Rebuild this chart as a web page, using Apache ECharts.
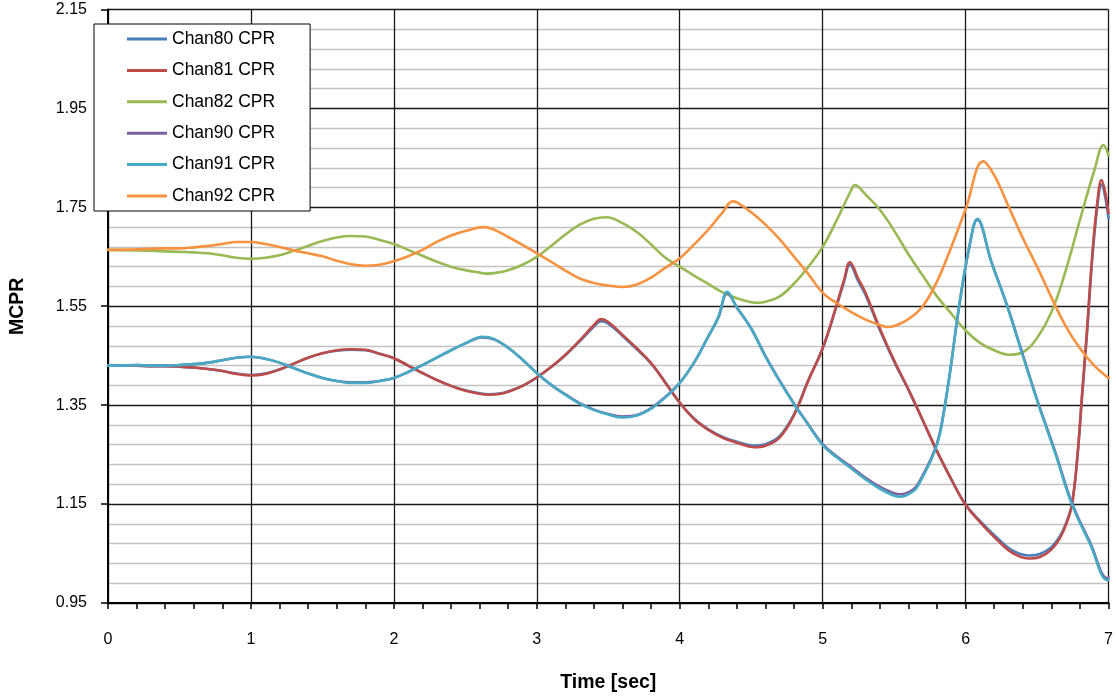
<!DOCTYPE html>
<html>
<head>
<meta charset="utf-8">
<title>MCPR vs Time</title>
<script src="https://cdn.jsdelivr.net/npm/echarts@6/dist/echarts.min.js"></script>
<style>
  html, body { margin: 0; padding: 0; background: #fff; }
  #chart { width: 1116px; height: 698px; }
</style>
</head>
<body>
<div id="chart"></div>
<script>
// MCPR transient per channel: [time (s), MCPR]
const chan80 = [[0,1.430],[0.1,1.430],[0.2,1.430],[0.3,1.429],[0.4,1.429],[0.5,1.428],[0.6,1.426],[0.7,1.423],[0.8,1.419],[0.9,1.414],[1.0,1.411],[1.1,1.414],[1.2,1.422],[1.3,1.434],[1.4,1.446],[1.5,1.455],[1.6,1.460],[1.7,1.462],[1.8,1.461],[1.9,1.454],[2.0,1.445],[2.1,1.430],[2.2,1.415],[2.3,1.401],[2.4,1.389],[2.5,1.380],[2.6,1.374],[2.66,1.372],[2.75,1.374],[2.8,1.378],[2.9,1.389],[3.0,1.406],[3.1,1.427],[3.2,1.451],[3.3,1.479],[3.4,1.509],[3.45,1.520],[3.5,1.515],[3.6,1.490],[3.7,1.463],[3.8,1.434],[3.9,1.396],[4.0,1.355],[4.1,1.323],[4.2,1.301],[4.3,1.286],[4.4,1.276],[4.52,1.268],[4.6,1.271],[4.7,1.288],[4.8,1.332],[4.9,1.401],[5.0,1.465],[5.1,1.553],[5.15,1.600],[5.19,1.634],[5.25,1.600],[5.3,1.573],[5.4,1.502],[5.5,1.438],[5.6,1.381],[5.7,1.319],[5.8,1.256],[5.9,1.200],[6.0,1.149],[6.1,1.116],[6.22,1.082],[6.33,1.056],[6.45,1.046],[6.52,1.049],[6.6,1.063],[6.66,1.085],[6.71,1.117],[6.745,1.152],[6.78,1.238],[6.815,1.368],[6.85,1.498],[6.885,1.642],[6.92,1.748],[6.95,1.796],[7.0,1.728]];
const chan81 = [[0,1.430],[0.1,1.430],[0.2,1.430],[0.3,1.429],[0.4,1.429],[0.5,1.428],[0.6,1.426],[0.7,1.423],[0.8,1.419],[0.9,1.413],[1.0,1.410],[1.1,1.413],[1.2,1.422],[1.3,1.434],[1.4,1.446],[1.5,1.455],[1.6,1.461],[1.7,1.463],[1.8,1.462],[1.9,1.454],[2.0,1.445],[2.1,1.430],[2.2,1.415],[2.3,1.401],[2.4,1.389],[2.5,1.379],[2.6,1.373],[2.66,1.371],[2.75,1.373],[2.8,1.377],[2.9,1.389],[3.0,1.406],[3.1,1.427],[3.2,1.452],[3.3,1.481],[3.4,1.512],[3.45,1.524],[3.5,1.518],[3.6,1.492],[3.7,1.465],[3.8,1.435],[3.9,1.395],[4.0,1.355],[4.1,1.322],[4.2,1.300],[4.3,1.284],[4.4,1.274],[4.52,1.265],[4.6,1.268],[4.7,1.285],[4.8,1.330],[4.9,1.400],[5.0,1.465],[5.1,1.555],[5.15,1.604],[5.19,1.639],[5.25,1.605],[5.3,1.577],[5.4,1.505],[5.5,1.440],[5.6,1.382],[5.7,1.320],[5.8,1.257],[5.9,1.200],[6.0,1.148],[6.1,1.114],[6.22,1.078],[6.33,1.051],[6.45,1.040],[6.52,1.043],[6.6,1.058],[6.66,1.081],[6.71,1.114],[6.745,1.150],[6.78,1.240],[6.815,1.373],[6.85,1.505],[6.885,1.650],[6.92,1.757],[6.95,1.805],[7.0,1.738]];
const chan82 = [[0,1.664],[0.2,1.663],[0.4,1.661],[0.5,1.660],[0.6,1.659],[0.7,1.657],[0.8,1.653],[0.9,1.648],[1.0,1.646],[1.1,1.648],[1.2,1.653],[1.3,1.662],[1.4,1.672],[1.5,1.682],[1.6,1.689],[1.7,1.692],[1.8,1.691],[1.9,1.684],[2.0,1.676],[2.1,1.664],[2.2,1.652],[2.3,1.640],[2.4,1.630],[2.5,1.623],[2.6,1.618],[2.65,1.616],[2.7,1.617],[2.8,1.623],[2.9,1.634],[3.0,1.650],[3.1,1.672],[3.2,1.695],[3.3,1.715],[3.4,1.727],[3.49,1.730],[3.6,1.718],[3.7,1.700],[3.8,1.675],[3.9,1.648],[4.0,1.630],[4.1,1.612],[4.2,1.595],[4.3,1.578],[4.4,1.566],[4.5,1.558],[4.55,1.557],[4.6,1.559],[4.7,1.570],[4.8,1.596],[4.9,1.630],[5.0,1.670],[5.1,1.725],[5.2,1.785],[5.225,1.795],[5.3,1.776],[5.4,1.745],[5.5,1.703],[5.6,1.655],[5.7,1.612],[5.8,1.570],[5.9,1.535],[6.0,1.501],[6.1,1.476],[6.2,1.461],[6.3,1.452],[6.4,1.457],[6.5,1.486],[6.6,1.538],[6.7,1.622],[6.8,1.725],[6.9,1.824],[6.965,1.876],[7.0,1.855]];
const chan90 = [[0,1.430],[0.1,1.430],[0.2,1.431],[0.3,1.430],[0.4,1.430],[0.5,1.431],[0.6,1.433],[0.7,1.436],[0.8,1.441],[0.9,1.446],[1.0,1.448],[1.1,1.444],[1.2,1.436],[1.3,1.425],[1.4,1.414],[1.5,1.405],[1.6,1.399],[1.7,1.396],[1.8,1.396],[1.9,1.399],[2.0,1.405],[2.1,1.417],[2.2,1.431],[2.3,1.446],[2.4,1.461],[2.5,1.475],[2.62,1.487],[2.7,1.483],[2.8,1.466],[2.9,1.442],[3.0,1.415],[3.1,1.391],[3.2,1.372],[3.3,1.354],[3.4,1.341],[3.5,1.332],[3.6,1.327],[3.7,1.330],[3.8,1.344],[3.9,1.367],[4.0,1.395],[4.1,1.436],[4.2,1.489],[4.27,1.527],[4.333,1.577],[4.4,1.547],[4.5,1.505],[4.6,1.449],[4.7,1.399],[4.8,1.353],[4.9,1.311],[5.0,1.271],[5.1,1.246],[5.2,1.225],[5.3,1.203],[5.4,1.185],[5.5,1.172],[5.55,1.170],[5.6,1.174],[5.65,1.184],[5.7,1.208],[5.76,1.243],[5.8,1.273],[5.83,1.308],[5.885,1.405],[5.955,1.550],[6.025,1.668],[6.082,1.725],[6.18,1.640],[6.291,1.551],[6.4,1.452],[6.511,1.352],[6.63,1.253],[6.743,1.153],[6.87,1.073],[6.993,1.000],[7.0,1.002]];
const chan91 = [[0,1.430],[0.1,1.430],[0.2,1.431],[0.3,1.430],[0.4,1.430],[0.5,1.431],[0.6,1.433],[0.7,1.436],[0.8,1.441],[0.9,1.446],[1.0,1.448],[1.1,1.444],[1.2,1.436],[1.3,1.425],[1.4,1.414],[1.5,1.405],[1.6,1.399],[1.7,1.395],[1.8,1.395],[1.9,1.399],[2.0,1.405],[2.1,1.417],[2.2,1.431],[2.3,1.446],[2.4,1.461],[2.5,1.475],[2.62,1.488],[2.7,1.484],[2.8,1.466],[2.9,1.442],[3.0,1.415],[3.1,1.391],[3.2,1.371],[3.3,1.353],[3.4,1.340],[3.5,1.331],[3.6,1.325],[3.7,1.329],[3.8,1.343],[3.9,1.366],[4.0,1.395],[4.1,1.436],[4.2,1.489],[4.27,1.528],[4.333,1.579],[4.4,1.548],[4.5,1.505],[4.6,1.448],[4.7,1.398],[4.8,1.352],[4.9,1.310],[5.0,1.269],[5.1,1.244],[5.2,1.222],[5.3,1.200],[5.4,1.181],[5.5,1.167],[5.55,1.165],[5.6,1.170],[5.65,1.180],[5.7,1.205],[5.76,1.240],[5.8,1.270],[5.83,1.306],[5.885,1.405],[5.955,1.551],[6.025,1.670],[6.082,1.727],[6.18,1.640],[6.291,1.550],[6.4,1.450],[6.511,1.350],[6.63,1.250],[6.743,1.150],[6.87,1.070],[6.993,0.996],[7.0,0.998]];
const chan92 = [[0,1.664],[0.2,1.665],[0.4,1.667],[0.5,1.667],[0.6,1.669],[0.7,1.672],[0.8,1.676],[0.9,1.680],[1.0,1.680],[1.1,1.676],[1.2,1.670],[1.3,1.663],[1.4,1.657],[1.5,1.651],[1.6,1.642],[1.7,1.635],[1.8,1.632],[1.9,1.634],[2.0,1.641],[2.1,1.651],[2.2,1.664],[2.3,1.680],[2.4,1.693],[2.5,1.702],[2.63,1.710],[2.7,1.705],[2.8,1.690],[2.9,1.674],[3.0,1.657],[3.1,1.640],[3.2,1.622],[3.3,1.606],[3.4,1.597],[3.5,1.592],[3.6,1.589],[3.7,1.594],[3.8,1.608],[3.9,1.628],[4.0,1.647],[4.1,1.675],[4.2,1.705],[4.3,1.740],[4.37,1.762],[4.4,1.760],[4.5,1.740],[4.6,1.715],[4.7,1.685],[4.8,1.650],[4.9,1.615],[5.0,1.577],[5.1,1.556],[5.2,1.538],[5.3,1.523],[5.4,1.512],[5.45,1.508],[5.5,1.510],[5.6,1.524],[5.7,1.550],[5.8,1.600],[5.9,1.670],[6.0,1.746],[6.124,1.843],[6.2,1.815],[6.3,1.752],[6.4,1.688],[6.5,1.630],[6.6,1.568],[6.7,1.510],[6.8,1.465],[6.9,1.430],[7.0,1.405]];

const seriesNames = ['Chan80 CPR', 'Chan81 CPR', 'Chan82 CPR', 'Chan90 CPR', 'Chan91 CPR', 'Chan92 CPR'];
const seriesData = [chan80, chan81, chan82, chan90, chan91, chan92];
const seriesColors = ['#4A7EBB', '#BE4B48', '#98B954', '#7D60A0', '#46AAC5', '#F69240'];

const FONT = "'Liberation Sans', Arial, sans-serif";

const chart = echarts.init(document.getElementById('chart'), null, { renderer: 'canvas' });

chart.setOption({
  animation: false,
  backgroundColor: '#ffffff',
  textStyle: { fontFamily: FONT },
  grid: { left: 106, right: 4, top: 9.5, bottom: 87.3, containLabel: false },
  legend: {
    orient: 'vertical',
    left: 94,
    top: 24,
    backgroundColor: '#ffffff',
    borderColor: '#000000',
    borderWidth: 1,
    borderRadius: 0,
    padding: [6, 35, 6, 33],
    itemWidth: 40,
    itemHeight: 3,
    itemGap: 13.4,
    icon: 'rect',
    textStyle: { fontFamily: FONT, fontSize: 17.5, color: '#000', lineHeight: 18 },
    data: seriesNames
  },
  xAxis: {
    type: 'value',
    min: 0,
    max: 7,
    interval: 1,
    name: 'Time [sec]',
    nameLocation: 'middle',
    nameGap: 70,
    nameTextStyle: { fontFamily: FONT, fontSize: 19.5, fontWeight: 'bold', color: '#000' },
    axisLine: { show: true, lineStyle: { color: '#000', width: 2 } },
    axisTick: { show: true, length: 6, lineStyle: { color: '#000', width: 1.5 } },
    minorTick: { show: true, splitNumber: 5, length: 6, lineStyle: { color: '#000', width: 1.5 } },
    axisLabel: { fontFamily: FONT, fontSize: 16, color: '#000', margin: 29 },
    splitLine: { show: true, lineStyle: { color: '#1a1a1a', width: 1.3 } },
    minorSplitLine: { show: false }
  },
  yAxis: {
    type: 'value',
    min: 0.95,
    max: 2.15,
    interval: 0.2,
    name: 'MCPR',
    nameLocation: 'middle',
    nameRotate: 90,
    nameGap: 80,
    nameTextStyle: { fontFamily: FONT, fontSize: 19.5, fontWeight: 'bold', color: '#000' },
    axisLine: { show: true, lineStyle: { color: '#000', width: 2 } },
    axisTick: { show: true, length: 7, lineStyle: { color: '#000', width: 1.5 } },
    minorTick: { show: false, splitNumber: 5 },
    axisLabel: {
      fontFamily: FONT, fontSize: 16, color: '#000', margin: 21,
      formatter: v => v.toFixed(2)
    },
    splitLine: { show: true, lineStyle: { color: '#1a1a1a', width: 1.3 } },
    minorSplitLine: { show: true, lineStyle: { color: '#c2c2c2', width: 1.3 } }
  },
  series: seriesNames.map((name, i) => ({
    name: name,
    type: 'line',
    data: seriesData[i],
    color: seriesColors[i],
    showSymbol: false,
    symbol: 'none',
    smooth: 0.4,
    lineStyle: { width: 2.6, color: seriesColors[i], join: 'round', cap: 'round' },
    emphasis: { disabled: true },
    z: 2 + i * 0.01
  }))
});
</script>
</body>
</html>
